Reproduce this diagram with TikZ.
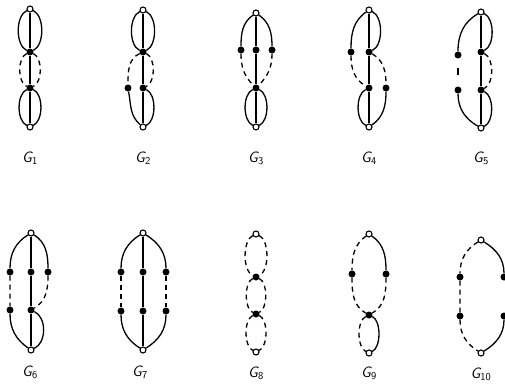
\documentclass[tikz,border=0pt]{standalone}
\begin{document}
\begin{tikzpicture}[x=1pt,y=1pt,
 opn/.style={circle,draw,fill=white,inner sep=0pt,minimum size=6pt,line width=1.1pt},
 blk/.style={circle,fill=black,inner sep=0pt,minimum size=7pt},
 ed/.style={line width=1.3pt},
 dsh/.style={line width=1.3pt,dash pattern=on 5pt off 4pt},
 lb/.style={out=-155,in=155,looseness=0.8},
 rb/.style={out=-25,in=25,looseness=0.8},
 lab/.style={font=\fontsize{15}{17}\selectfont\sffamily\slshape}]
\useasboundingbox (0,0) rectangle (505,-391);
\clip (0,0) rectangle (505,-391);
% G1
\node[opn] (a1) at (30,-9) {};
\node[blk] (a2) at (30,-52) {};
\node[blk] (a3) at (30,-88) {};
\node[opn] (a4) at (30,-127) {};
\draw[ed] (a1)--(a2)--(a3)--(a4);
\draw[ed] (a1) to[lb] (a2) (a1) to[rb] (a2) (a3) to[lb] (a4) (a3) to[rb] (a4);
\draw[dsh] (a2) to[lb] (a3) (a2) to[rb] (a3);
% G2
\node[opn] (b1) at (143,-10) {};
\node[blk] (b2) at (143,-52) {};
\node[blk] (b3) at (143,-88) {};
\node[blk] (bl) at (128,-88) {};
\node[opn] (b4) at (143,-127) {};
\draw[ed] (b1)--(b2)--(b3)--(b4);
\draw[ed] (b1) to[lb] (b2) (b1) to[rb] (b2) (b3) to[rb] (b4) (bl) to[out=-80,in=140] (b4);
\draw[dsh] (b2) to[rb] (b3) (b2) to[out=-155,in=90] (bl);
% G3
\node[opn] (c1) at (256,-13) {};
\node[blk] (cl) at (241,-50) {};
\node[blk] (cm) at (256,-50) {};
\node[blk] (cr) at (272,-50) {};
\node[blk] (c2) at (256,-88) {};
\node[opn] (c3) at (256,-127) {};
\draw[ed] (c1)--(cm)--(c2)--(c3);
\draw[ed] (c1) to[out=-145,in=90] (cl) (c1) to[out=-35,in=90] (cr) (c2) to[lb] (c3) (c2) to[rb] (c3);
\draw[dsh] (cl) to[out=-90,in=135] (c2) (cr) to[out=-90,in=45] (c2);
% G4
\node[opn] (d1) at (369,-10) {};
\node[blk] (dl) at (351,-52) {};
\node[blk] (d2) at (369,-52) {};
\node[blk] (d3) at (369,-88) {};
\node[blk] (dr) at (386,-88) {};
\node[opn] (d4) at (369,-127) {};
\draw[ed] (d1)--(d2)--(d3)--(d4);
\draw[ed] (d1) to[out=-145,in=90] (dl) (d1) to[rb] (d2) (d3) to[lb] (d4) (dr) to[out=-90,in=35] (d4);
\draw[dsh] (dl) to[out=-90,in=150] (d3) (d2) to[out=-30,in=90] (dr);
% G5
\node[opn] (e1) at (481,-12) {};
\node[blk] (el1) at (458,-55) {};
\node[blk] (el2) at (458,-90) {};
\node[blk] (e2) at (481,-52) {};
\node[blk] (e3) at (481,-90) {};
\node[opn] (e4) at (481,-128) {};
\draw[ed] (e1)--(e2)--(e3)--(e4);
\draw[ed] (e1) to[out=-150,in=90] (el1) (e1) to[rb] (e2) (el2) to[out=-90,in=150] (e4) (e3) to[rb] (e4);
\draw[dsh] (e2) to[rb] (e3);
\draw[line width=1.3pt,dash pattern=on 0pt off 9.5pt on 7pt off 30pt] (el1)--(el2);
% G6
\node[opn] (f1) at (31,-233) {};
\node[blk] (fl1) at (10,-272) {};
\node[blk] (fm) at (31,-272) {};
\node[blk] (fr) at (48,-272) {};
\node[blk] (fl2) at (10,-310) {};
\node[blk] (f2) at (31,-310) {};
\node[opn] (f3) at (31,-350) {};
\draw[ed] (f1)--(fm)--(f2)--(f3);
\draw[ed] (f1) to[out=-148,in=90] (fl1) (f1) to[out=-32,in=90] (fr) (fl2) to[out=-90,in=145] (f3) (f2) to[rb,looseness=0.95] (f3);
\draw[dsh] (fl1)--(fl2) (fr) to[out=-90,in=30] (f2);
% G7
\node[opn] (g1) at (143,-233) {};
\node[blk] (gl1) at (121,-272) {};
\node[blk] (gm1) at (143,-272) {};
\node[blk] (gr1) at (166,-272) {};
\node[blk] (gl2) at (121,-311) {};
\node[blk] (gm2) at (143,-311) {};
\node[blk] (gr2) at (166,-311) {};
\node[opn] (g2) at (143,-350) {};
\draw[ed] (g1)--(gm1)--(gm2)--(g2);
\draw[ed] (g1) to[out=-148,in=90] (gl1) (g1) to[out=-32,in=90] (gr1) (gl2) to[out=-90,in=148] (g2) (gr2) to[out=-90,in=32] (g2);
\draw[dsh] (gl1)--(gl2) (gr1)--(gr2);
% G8
\node[opn] (h1) at (256,-234) {};
\node[blk] (h2) at (256,-277) {};
\node[blk] (h3) at (256,-314) {};
\node[opn] (h4) at (256,-352) {};
\draw[dsh] (h1) to[lb,looseness=0.72] (h2) (h1) to[rb,looseness=0.72] (h2) (h2) to[lb,looseness=0.72] (h3) (h2) to[rb,looseness=0.72] (h3) (h3) to[lb,looseness=0.72] (h4) (h3) to[rb,looseness=0.72] (h4);
% G9
\node[opn] (i1) at (369,-234) {};
\node[blk] (il) at (352,-274) {};
\node[blk] (ir) at (386,-274) {};
\node[blk] (i2) at (369,-315) {};
\node[opn] (i3) at (369,-353) {};
\draw[ed] (i1) to[out=-35,in=90] (ir) (i2) to[rb,looseness=0.72] (i3);
\draw[dsh] (i1) to[out=-145,in=90] (il) (il) to[out=-90,in=150] (i2) (ir) to[out=-90,in=30] (i2) (i2) to[lb,looseness=0.72] (i3);
% G10
\node[opn] (j1) at (481,-240) {};
\node[blk] (jl1) at (460,-277) {};
\node[blk] (jl2) at (460,-316) {};
\node[blk] (jr1) at (504,-277) {};
\node[blk] (jr2) at (504,-316) {};
\node[opn] (j2) at (481,-353) {};
\draw[ed] (j1) to[out=-32,in=90] (jr1) (jr2) to[out=-90,in=32] (j2);
\draw[dsh] (j1) to[out=-148,in=90] (jl1) (jl1)--(jl2) (jl2) to[out=-90,in=148] (j2);
% labels
\node[lab] (L1) at (30,-158) {G\textsubscript{\upshape 1}};
\node[lab] (L2) at (143,-158) {G\textsubscript{\upshape 2}};
\node[lab] (L3) at (256,-158) {G\textsubscript{\upshape 3}};
\node[lab] (L4) at (369,-158) {G\textsubscript{\upshape 4}};
\node[lab] (L5) at (481,-158) {G\textsubscript{\upshape 5}};
\node[lab] (L6) at (30,-372) {G\textsubscript{\upshape 6}};
\node[lab] (L7) at (140,-372) {G\textsubscript{\upshape 7}};
\node[lab] (L8) at (256,-373) {G\textsubscript{\upshape 8}};
\node[lab] (L9) at (369,-373) {G\textsubscript{\upshape 9}};
\node[lab] (L10) at (481,-374) {G\textsubscript{\upshape 10}};
\end{tikzpicture}
\end{document}
